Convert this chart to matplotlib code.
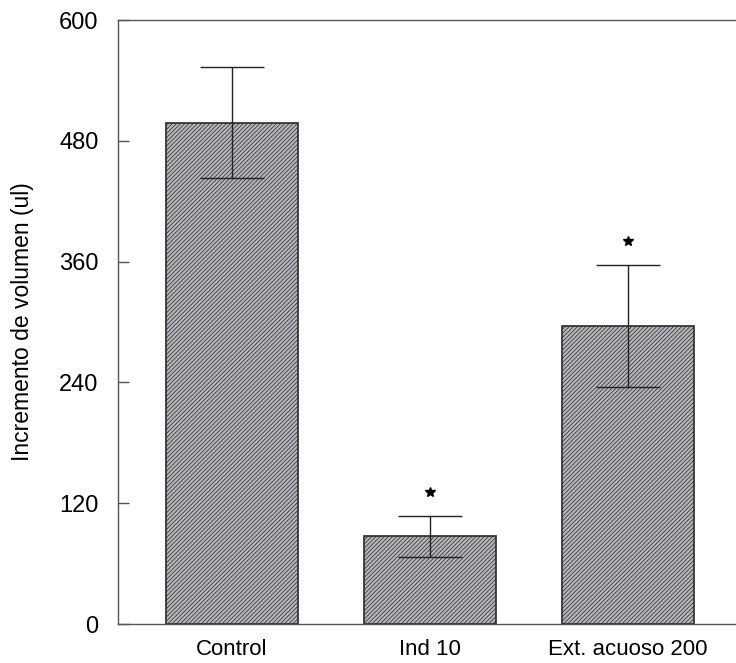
import numpy as np
import matplotlib
matplotlib.use("Agg")
import matplotlib.pyplot as plt

# edema volume increase per group
groups = ["Control", "Ind 10", "Ext. acuoso 200"]
means = [498, 87, 296]
errs = [55, 20, 61]
# groups marked as significant, and the height of the star
sig_idx = [1, 2]
sig_y = [131, 380]
yticks = [0, 120, 240, 360, 480, 600]

plt.rcParams["font.family"] = ["Liberation Sans", "DejaVu Sans"]
plt.rcParams["hatch.linewidth"] = 0.5
plt.rcParams["hatch.color"] = "#818389"

fig = plt.figure(figsize=(7.36, 6.63), dpi=100)
ax = fig.add_axes([0.1603, 0.0588, 0.8397, 0.911])

x = np.arange(len(groups))
ax.bar(x, means, width=0.667, color="#b4b6bc", edgecolor="#2a2a2a",
       linewidth=1.2, hatch="////////", zorder=2)
ax.errorbar(x, means, yerr=errs, fmt="none", ecolor="#222222",
            elinewidth=1.0, capsize=23, capthick=1.0, zorder=3)
ax.plot(x[sig_idx], sig_y, linestyle="none", marker="*", color="black",
        markersize=7, zorder=3)

ax.set_xlim(-0.574, 2.546)
ax.set_ylim(0, 600)
ax.set_yticks(yticks)
ax.set_xticks(x)
ax.set_xticklabels(groups, fontsize=16)
ax.tick_params(axis="y", labelsize=17, direction="in", length=8,
               width=1, color="#555555", pad=14)
ax.tick_params(axis="x", length=0, pad=11)
ax.set_ylabel("Incremento de volumen (ul)", fontsize=16.5, labelpad=18)

for side in ["left", "top", "bottom"]:
    ax.spines[side].set_color("#555555")
    ax.spines[side].set_linewidth(1.0)
ax.spines["right"].set_visible(False)

fig.savefig("out.png", dpi=100)
